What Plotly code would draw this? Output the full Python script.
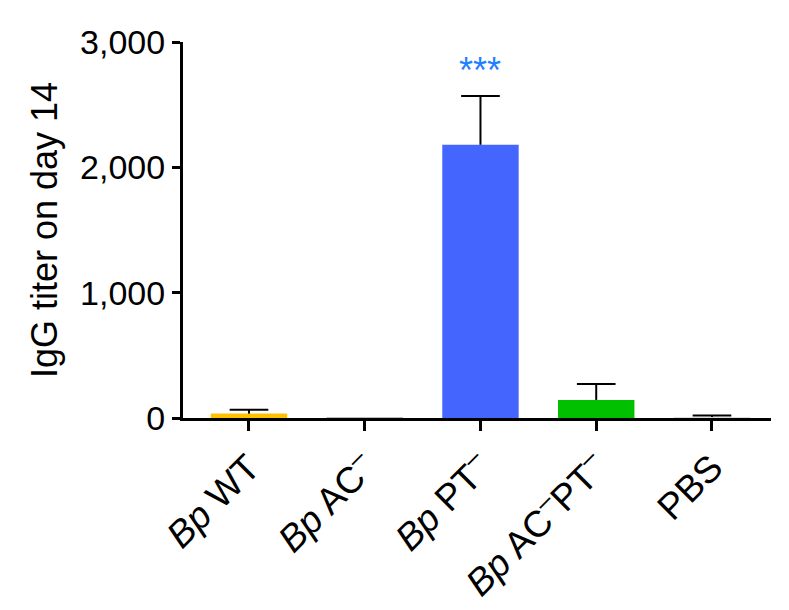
import plotly.graph_objects as go

groups = ["<i>Bp</i> WT", "<i>Bp</i> AC<sup>–</sup>", "<i>Bp</i> PT<sup>–</sup>",
          "<i>Bp</i> AC<sup>–</sup>PT<sup>–</sup>", "PBS"]
titer_mean = [35, 3, 2180, 144, 8]
titer_err = [30, 0, 390, 127, 12]
bar_colors = ["#FFC000", "#BBBBBB", "#4466FF", "#00C000", "#DDDDDD"]
y_ticks = [0, 1000, 2000, 3000]
y_ticklabels = ["0", "1,000", "2,000", "3,000"]

font = "Arial, Liberation Sans, Helvetica, sans-serif"
cap = 0.167  # half width of error bar caps, in category units

fig = go.Figure()
fig.add_trace(go.Bar(
    x=list(range(len(groups))), y=titer_mean, width=0.66,
    marker=dict(color=bar_colors, line=dict(width=0)),
    showlegend=False, hoverinfo="skip",
))

# upward-only error bars (stem + top cap, no cap on the bar)
ex, ey = [], []
for i, (m, e) in enumerate(zip(titer_mean, titer_err)):
    if e <= 0:
        continue
    ex += [i, i, None, i - cap, i + cap, None]
    ey += [m, m + e, None, m + e, m + e, None]
fig.add_trace(go.Scatter(x=ex, y=ey, mode="lines",
                         line=dict(color="black", width=2),
                         showlegend=False, hoverinfo="skip"))

fig.add_annotation(x=2, y=2770, text="***", showarrow=False,
                   font=dict(family=font, size=36, color="#1E80FF"),
                   yanchor="middle")

# page body adds an 8px offset, so the figure is a bit smaller than the window
fig.update_layout(
    width=781, height=602,
    margin=dict(l=175, r=18, t=34, b=192),
    plot_bgcolor="white", paper_bgcolor="white",
    font=dict(family=font, size=34, color="black"),
    xaxis=dict(
        range=[-0.57, 4.51], tickmode="array", automargin=False,
        tickvals=list(range(len(groups))), ticktext=groups,
        tickangle=-45, tickfont=dict(size=37),
        showline=True, linecolor="black", linewidth=3,
        ticks="outside", ticklen=10, tickwidth=3, tickcolor="black",
        showgrid=False, zeroline=False,
    ),
    yaxis=dict(
        range=[0, 3000], tickmode="array", automargin=False,
        tickvals=y_ticks, ticktext=y_ticklabels, tickfont=dict(size=34),
        title=dict(text="IgG titer on day 14", font=dict(size=36), standoff=12),
        showline=True, linecolor="black", linewidth=3,
        ticks="outside", ticklen=8, tickwidth=3, tickcolor="black",
        showgrid=False, zeroline=False,
    ),
)

fig.write_html("out.html")
